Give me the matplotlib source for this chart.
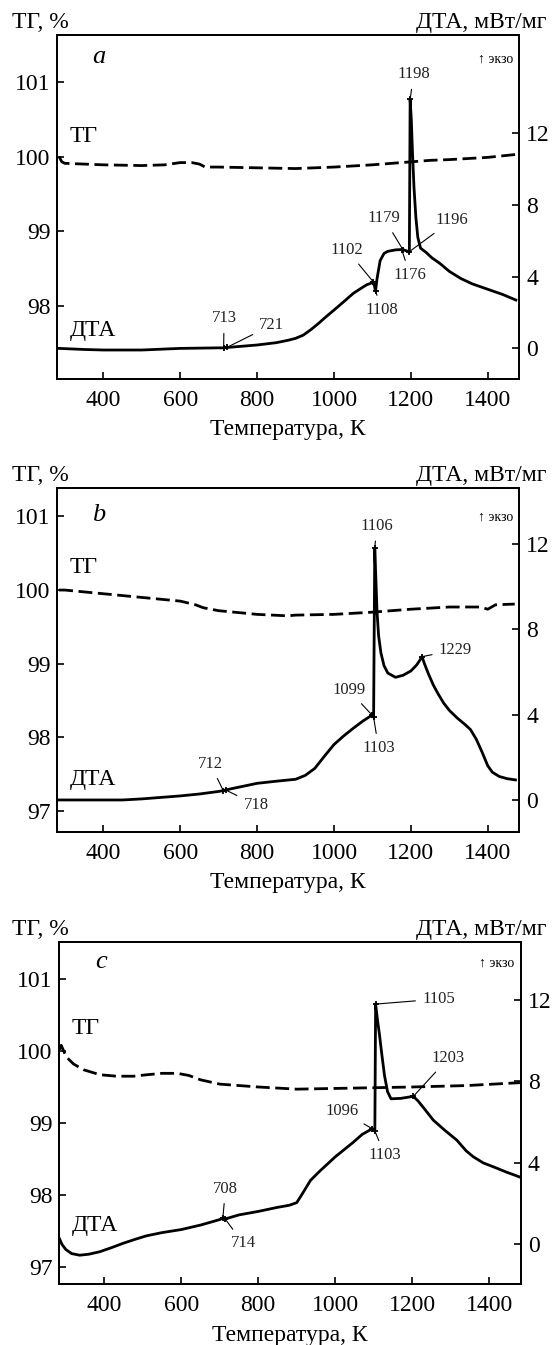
import numpy as np
import matplotlib.pyplot as plt

plt.rcParams['font.family'] = ['Liberation Serif', 'DejaVu Serif']
plt.rcParams['axes.linewidth'] = 1.3

# ---- panel a ----
t_tg_a = [285, 292, 300, 350, 400, 500, 560, 600, 630, 650, 665, 700, 800, 900,
          1000, 1100, 1150, 1200, 1250, 1300, 1400, 1475]
tg_a = [100.0, 99.93, 99.91, 99.9, 99.89, 99.88, 99.89, 99.92, 99.92, 99.9, 99.86,
        99.86, 99.85, 99.84, 99.86, 99.89, 99.91, 99.93, 99.95, 99.96, 99.99, 100.03]
t_dta_a = [285, 350, 400, 500, 600, 700, 713, 721, 800, 850, 880, 900, 920, 940, 960,
           980, 1000, 1025, 1050, 1070, 1085, 1095, 1102, 1105, 1108, 1112, 1120,
           1130, 1140, 1160, 1176, 1179, 1188, 1196, 1198, 1201, 1204, 1208, 1213,
           1218, 1225, 1240, 1255, 1275, 1300, 1330, 1360, 1400, 1440, 1473]
dta_a = [0.0, -0.06, -0.09, -0.09, 0.0, 0.03, 0.03, 0.05, 0.19, 0.32, 0.45, 0.56,
         0.74, 1.05, 1.4, 1.78, 2.14, 2.6, 3.07, 3.35, 3.55, 3.63, 3.72, 3.5, 3.2, 3.9,
         4.9, 5.3, 5.42, 5.5, 5.52, 5.52, 5.45, 5.4, 13.9, 12.8, 11.0, 9.0, 7.3, 6.2,
         5.6, 5.35, 5.05, 4.75, 4.3, 3.9, 3.6, 3.3, 3.0, 2.7]
peaks_a = [713, 721, 1102, 1108, 1179, 1176, 1196, 1198]

# ---- panel b ----
t_tg_b = [285, 300, 400, 500, 600, 640, 660, 700, 800, 880, 900, 1000, 1100, 1200,
          1300, 1380, 1400, 1420, 1470]
tg_b = [100.0, 100.0, 99.95, 99.9, 99.85, 99.8, 99.76, 99.72, 99.67, 99.65, 99.66,
        99.67, 99.7, 99.74, 99.77, 99.77, 99.74, 99.8, 99.81]
t_dta_b = [283, 450, 500, 550, 600, 650, 700, 712, 718, 800, 850, 900, 925, 950, 975,
           1000, 1025, 1050, 1075, 1099, 1103, 1106, 1108, 1112, 1116, 1122, 1130,
           1140, 1160, 1180, 1200, 1215, 1225, 1229, 1235, 1245, 1258, 1270, 1285,
           1300, 1320, 1340, 1355, 1370, 1385, 1400, 1412, 1430, 1450, 1472]
dta_b = [0.0, 0.0, 0.05, 0.12, 0.19, 0.28, 0.4, 0.44, 0.47, 0.78, 0.88, 0.97, 1.15,
         1.48, 2.05, 2.6, 3.0, 3.36, 3.7, 3.98, 3.88, 11.8, 10.8, 8.8, 7.7, 6.9, 6.3,
         5.95, 5.75, 5.85, 6.05, 6.33, 6.6, 6.72, 6.4, 5.94, 5.4, 5.0, 4.55, 4.2, 3.85,
         3.55, 3.3, 2.85, 2.25, 1.6, 1.3, 1.1, 1.0, 0.94]
peaks_b = [712, 718, 1099, 1103, 1106, 1229]

# ---- panel c ----
t_tg_c = [283, 288, 301, 320, 346, 389, 432, 476, 510, 550, 590, 620, 650, 700, 800,
          900, 1000, 1100, 1200, 1342, 1480]
tg_c = [100.02, 100.08, 99.92, 99.82, 99.74, 99.67, 99.65, 99.65, 99.67, 99.69,
        99.69, 99.66, 99.6, 99.54, 99.5, 99.47, 99.48, 99.49, 99.5, 99.52, 99.56]
t_dta_c = [283, 290, 300, 315, 336, 360, 388, 420, 448, 480, 509, 550, 600, 650, 700,
           708, 714, 750, 800, 850, 880, 900, 915, 936, 960, 1000, 1046, 1070, 1096,
           1103, 1105, 1110, 1115, 1120, 1128, 1136, 1145, 1170, 1203, 1215, 1230,
           1255, 1285, 1316, 1340, 1359, 1385, 1411, 1445, 1478]
dta_c = [0.3, 0.0, -0.25, -0.45, -0.53, -0.48, -0.36, -0.15, 0.05, 0.25, 0.42, 0.58,
         0.73, 0.95, 1.22, 1.3, 1.25, 1.45, 1.62, 1.82, 1.92, 2.05, 2.5, 3.15, 3.6,
         4.3, 5.0, 5.4, 5.68, 5.57, 11.8, 11.0, 10.3, 9.5, 8.3, 7.5, 7.15, 7.17, 7.27,
         7.05, 6.7, 6.1, 5.6, 5.12, 4.6, 4.3, 4.0, 3.81, 3.55, 3.32]
peaks_c = [708, 714, 1096, 1103, 1105, 1203]


def panel(rect, xlim, tg_lim, tg_ticks, dta_lim, t_tg, tg, t_dta, dta, peaks,
          text_xy, letter, letter_y, head_y, tg_lab, dta_lab):
    ax = fig.add_axes(rect)
    ax2 = ax.twinx()
    ax.plot(t_tg, tg, color='black', lw=2, ls=(0, (5, 2)))
    ax2.plot(t_dta, dta, color='black', lw=2)
    py = np.interp(peaks, t_dta, dta)
    ax2.plot(peaks, py, ls='none', marker='+', ms=5, mew=1.3, color='black')
    for T, y, xy in zip(peaks, py, text_xy):
        ax2.annotate(str(T), xy=(T, y), xytext=xy, fontsize=12, ha='center',
                     va='center', color='#222222',
                     arrowprops=dict(arrowstyle='-', lw=0.8, color='black',
                                     shrinkA=3, shrinkB=1))
    ax.set_xlim(*xlim)
    ax.set_ylim(*tg_lim)
    ax2.set_ylim(*dta_lim)
    ax.set_xticks([400, 600, 800, 1000, 1200, 1400])
    ax.set_yticks(tg_ticks)
    ax2.set_yticks([0, 4, 8, 12])
    ax.tick_params(axis='x', direction='in', length=5, width=1.2, labelsize=17, pad=8)
    ax.tick_params(axis='y', direction='in', length=5, width=1.2, labelsize=17, pad=5)
    ax2.tick_params(axis='y', direction='in', length=5, width=1.2, labelsize=17, pad=5)
    ax.set_xlabel('Температура, К', fontsize=17, labelpad=6)
    ax.text(0.09, letter_y, letter, transform=ax.transAxes, fontsize=19,
            style='italic', ha='center', va='center')
    ax.text(0.987, letter_y - 0.005, '↑ экзо', transform=ax.transAxes, fontsize=10,
            ha='right', va='center', family=['Liberation Serif', 'DejaVu Sans'])
    ax.text(tg_lab[0], tg_lab[1], 'ТГ', fontsize=17, ha='left', va='center')
    ax2.text(dta_lab[0], dta_lab[1], 'ДТА', fontsize=17, ha='left', va='center')
    fig.text(0.022, head_y, 'ТГ, %', fontsize=17, ha='left', va='baseline')
    fig.text(0.99, head_y, 'ДТА, мВт/мг', fontsize=17, ha='right', va='baseline')


fig = plt.figure(figsize=(5.52, 13.45), dpi=100)

panel([0.1038, 0.7182, 0.837, 0.2558], (280.3, 1482), (97.02, 101.63),
      [98, 99, 100, 101], (-1.71, 17.5),
      t_tg_a, tg_a, t_dta_a, dta_a, peaks_a,
      [(714, 1.67), (838, 1.3), (1034, 5.49), (1125, 2.14), (1130, 7.26),
       (1198, 4.09), (1307, 7.16), (1207, 15.3)],
      'a', 0.936, 0.9792, (313, 100.27), (313, 1.02))

panel([0.1038, 0.3816, 0.837, 0.2553], (280.3, 1482), (96.72, 101.38),
      [97, 98, 99, 100, 101], (-1.49, 14.61),
      t_tg_b, tg_b, t_dta_b, dta_b, peaks_b,
      [(678, 1.69), (797, -0.23), (1038, 5.16), (1116, 2.42), (1111, 12.84),
       (1316, 7.03)],
      'b', 0.922, 0.6424, (313, 100.31), (313, 0.94))

panel([0.1074, 0.0451, 0.8359, 0.2547], (283, 1482), (96.755, 101.52),
      [97, 98, 99, 100, 101], (-1.96, 14.86),
      t_tg_c, tg_c, t_dta_c, dta_c, peaks_c,
      [(715, 2.74), (761, 0.05), (1018, 6.55), (1129, 4.38), (1269, 12.05),
       (1294, 9.14)],
      'c', 0.942, 0.3048, (315, 100.32), (315, 0.95))

fig.savefig('out.png', dpi=100)
